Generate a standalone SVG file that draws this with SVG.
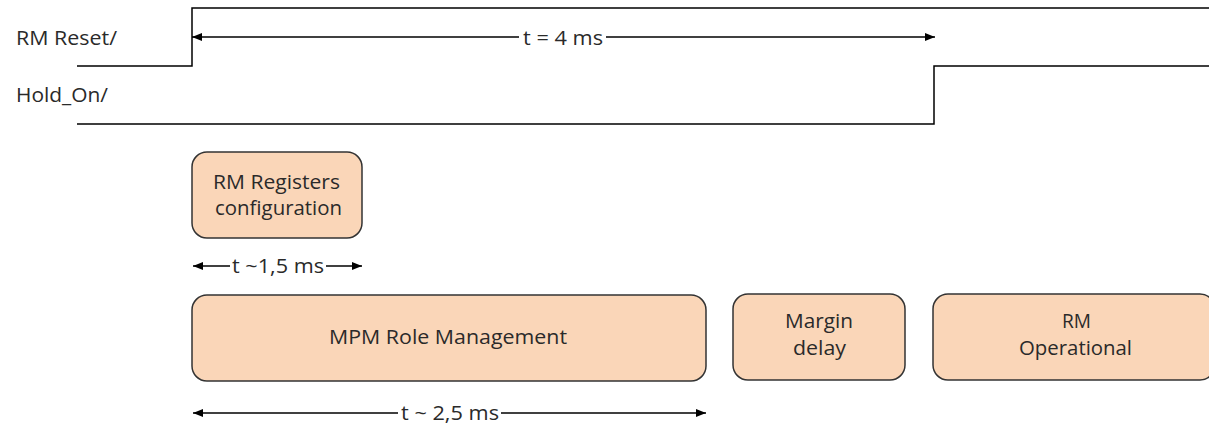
<svg xmlns="http://www.w3.org/2000/svg" width="1209" height="425" viewBox="0 0 1209 425">
<defs>
<style>
.sig{fill:none;stroke:#000;stroke-width:1.5}
.dim{fill:none;stroke:#000;stroke-width:1.3}
.box{fill:#FAD6B8;stroke:#333;stroke-width:1.5}
text{font-family:"Open Sans","Liberation Sans",sans-serif;font-size:20px;fill:#2a2a2a}
</style>
<marker id="ah" viewBox="0 0 10 10" refX="10" refY="5" markerWidth="11" markerHeight="10" markerUnits="userSpaceOnUse" orient="auto-start-reverse">
<path d="M0,1 L10,5 L0,9 Z" fill="#000"/>
</marker>
</defs>
<g id="labels">
<text x="16" y="45" textLength="101" lengthAdjust="spacingAndGlyphs">RM Reset/</text>
<text x="16" y="102" textLength="92" lengthAdjust="spacingAndGlyphs">Hold_On/</text>
</g>
<g id="connectors">
<path id="rm-reset" class="sig" d="M77,66 H192 V8 H1209"/>
<path id="hold-on" class="sig" d="M77,124 H934 V66 H1209"/>
<line class="dim" x1="519" y1="37" x2="192" y2="37" marker-end="url(#ah)"/>
<line class="dim" x1="606" y1="37" x2="935" y2="37" marker-end="url(#ah)"/>
<text x="523" y="45" textLength="80" lengthAdjust="spacingAndGlyphs">t = 4 ms</text>
<line class="dim" x1="230" y1="266" x2="193" y2="266" marker-end="url(#ah)"/>
<line class="dim" x1="326" y1="266" x2="362" y2="266" marker-end="url(#ah)"/>
<text x="232" y="273" textLength="92" lengthAdjust="spacingAndGlyphs">t ~1,5 ms</text>
<line class="dim" x1="398" y1="413" x2="193" y2="413" marker-end="url(#ah)"/>
<line class="dim" x1="501" y1="413" x2="706" y2="413" marker-end="url(#ah)"/>
<text x="401" y="420" textLength="98" lengthAdjust="spacingAndGlyphs">t ~ 2,5 ms</text>
</g>
<g id="node-rm-registers">
<rect class="box" x="192" y="152" width="170" height="86" rx="15"/>
<text x="213" y="189" textLength="127" lengthAdjust="spacingAndGlyphs">RM Registers</text>
<text x="215" y="215" textLength="127" lengthAdjust="spacingAndGlyphs">configuration</text>
</g>
<g id="node-mpm">
<rect class="box" x="192" y="295" width="514" height="86" rx="15"/>
<text x="329" y="344" textLength="238" lengthAdjust="spacingAndGlyphs">MPM Role Management</text>
</g>
<g id="node-margin">
<rect class="box" x="733" y="294" width="172" height="86" rx="15"/>
<text x="785" y="328" textLength="68" lengthAdjust="spacingAndGlyphs">Margin</text>
<text x="793" y="355" textLength="53" lengthAdjust="spacingAndGlyphs">delay</text>
</g>
<g id="node-rm-operational">
<rect class="box" x="933" y="294" width="282" height="86" rx="15"/>
<text x="1062" y="328" textLength="29" lengthAdjust="spacingAndGlyphs">RM</text>
<text x="1019" y="355" textLength="113" lengthAdjust="spacingAndGlyphs">Operational</text>
</g>
</svg>
